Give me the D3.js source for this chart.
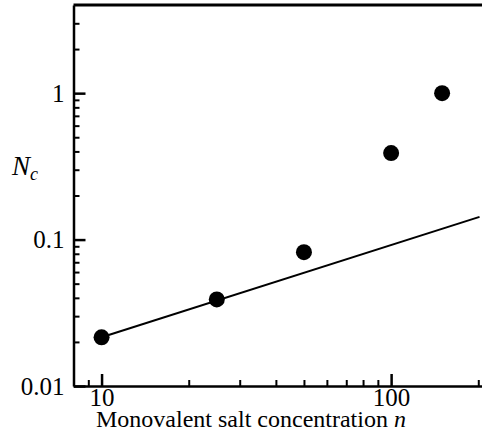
<!DOCTYPE html>
<html>
<head>
<meta charset="utf-8">
<script src="https://cdn.jsdelivr.net/npm/d3@7"></script>
<style>
  body { margin: 0; background: #fff; }
  svg { display: block; }
  text { font-family: "Liberation Serif", "Times New Roman", serif; }
</style>
</head>
<body>
<svg width="482" height="433"></svg>
<script>
// measured points
const saltConc = [10, 25, 50, 100, 150];
const criticalN = [0.0215, 0.039, 0.082, 0.39, 1.0];

// straight fit line (log-log), two end points
const fitX = [10, 202];
const fitY = [0.0215, 0.143];

const xMajor = [10, 100];
const xMinor = [9, 20, 30, 40, 50, 60, 70, 80, 90, 200];
const yMajor = [0.01, 0.1, 1];
const yMinor = [0.02, 0.03, 0.04, 0.05, 0.06, 0.07, 0.08, 0.09,
  0.2, 0.3, 0.4, 0.5, 0.6, 0.7, 0.8, 0.9, 2, 3];

const layout = { left: 73.5, right: 482, top: 5, bottom: 386 };

const svg = d3.select("svg");

const x = d3.scaleLog().domain([8, 206]).range([layout.left, layout.right]);
const y = d3.scaleLog().domain([0.01, 4]).range([layout.bottom, layout.top]);

const fmt = (d) => String(d);

// minor ticks first, no labels
svg.append("g")
  .attr("transform", `translate(0, ${layout.bottom})`)
  .call(d3.axisBottom(x).tickValues(xMinor).tickSize(-6).tickSizeOuter(0).tickFormat(""))
  .call((g) => g.select(".domain").remove())
  .call((g) => g.selectAll("line").attr("stroke-width", 2));

svg.append("g")
  .attr("transform", `translate(${layout.left}, 0)`)
  .call(d3.axisLeft(y).tickValues(yMinor).tickSize(-6).tickSizeOuter(0).tickFormat(""))
  .call((g) => g.select(".domain").remove())
  .call((g) => g.selectAll("line").attr("stroke-width", 2));

// major ticks + labels
const xAxis = svg.append("g")
  .attr("transform", `translate(0, ${layout.bottom})`)
  .call(d3.axisBottom(x).tickValues(xMajor).tickSize(-12).tickSizeOuter(0).tickPadding(2).tickFormat(fmt));

const yAxis = svg.append("g")
  .attr("transform", `translate(${layout.left}, 0)`)
  .call(d3.axisLeft(y).tickValues(yMajor).tickSize(-12).tickSizeOuter(0).tickPadding(9).tickFormat(fmt));

[xAxis, yAxis].forEach((g) => {
  g.attr("font-family", null).attr("font-size", null);
  g.select(".domain").attr("stroke-width", 2.5);
  g.selectAll(".tick line").attr("stroke-width", 2.5);
  g.selectAll(".tick text")
    .attr("font-family", "Liberation Serif, serif")
    .attr("font-size", 25)
    .attr("fill", "#000");
});

// top frame line
svg.append("line")
  .attr("x1", layout.left).attr("x2", layout.right)
  .attr("y1", layout.top).attr("y2", layout.top)
  .attr("stroke", "#000").attr("stroke-width", 3);

// fit line
const line = d3.line().x((d) => x(d[0])).y((d) => y(d[1]));
svg.append("path")
  .datum(d3.zip(fitX, fitY))
  .attr("d", line)
  .attr("fill", "none")
  .attr("stroke", "#000")
  .attr("stroke-width", 2);

// data points
svg.selectAll("circle.pt")
  .data(d3.zip(saltConc, criticalN))
  .join("circle")
  .attr("class", "pt")
  .attr("cx", (d) => x(d[0]))
  .attr("cy", (d) => y(d[1]))
  .attr("r", 8)
  .attr("fill", "#000");

// axis titles
const xt = svg.append("text")
  .attr("x", 251)
  .attr("y", 427)
  .attr("text-anchor", "middle")
  .attr("font-size", 24);
xt.append("tspan").text("Monovalent salt concentration ");
xt.append("tspan").attr("font-style", "italic").text("n");

const yt = svg.append("text")
  .attr("x", 12)
  .attr("y", 175)
  .attr("font-size", 27)
  .attr("font-style", "italic");
yt.append("tspan").text("N");
yt.append("tspan").attr("font-size", 18).attr("dy", 5).text("c");
</script>
</body>
</html>
